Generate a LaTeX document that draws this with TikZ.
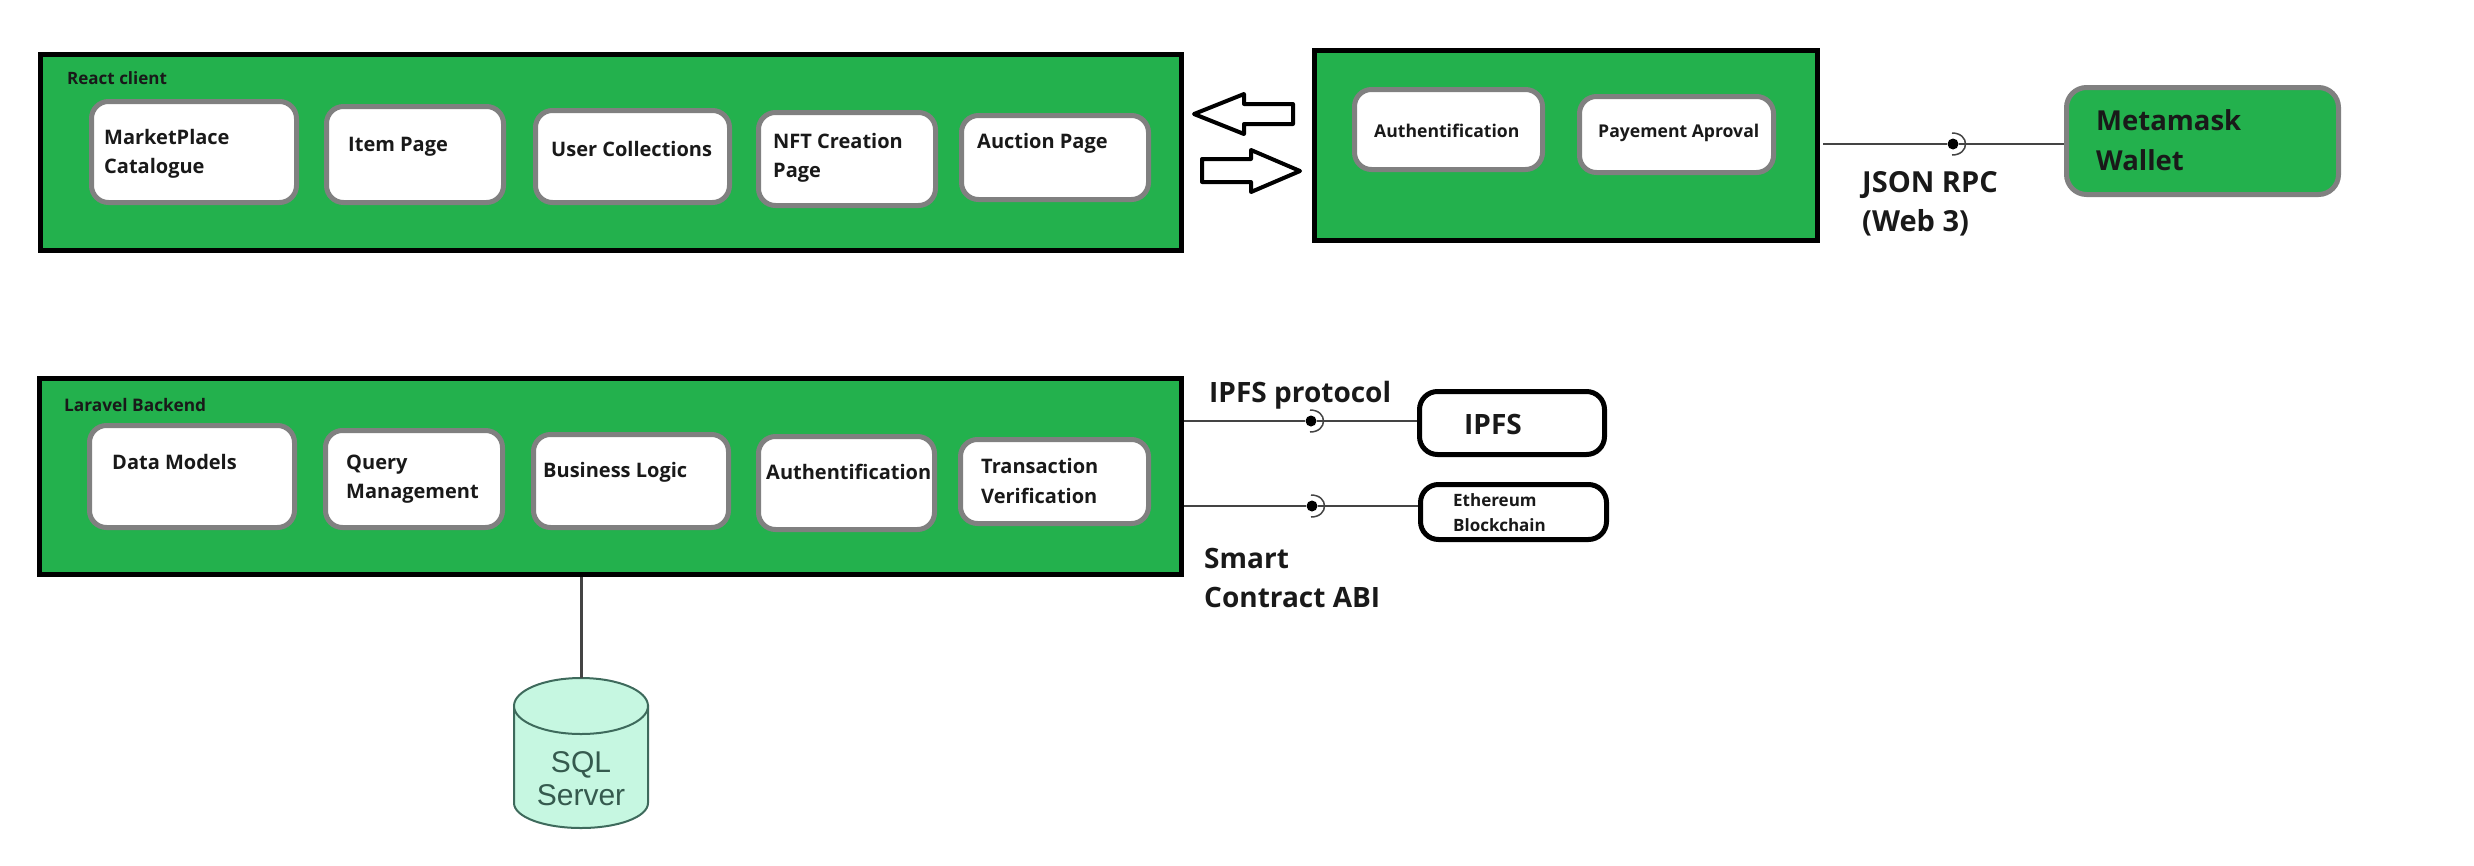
\documentclass[tikz,border=0pt]{standalone}
\usepackage{fontspec}
\setmainfont{Open Sans}[BoldFont={Open Sans Bold}]
\definecolor{panelgreen}{HTML}{23B14D}
\definecolor{pillgrey}{HTML}{808080}
\definecolor{wireink}{HTML}{444444}
\definecolor{dbfill}{HTML}{C6F7E1}
\definecolor{dbink}{HTML}{3E6A5C}
\newcommand{\boxat}[6]{\node[#2,minimum width={#5-#3-5},minimum height={#6-#4-5}] (#1) at ({(#3+#5)/2},{(#4+#6)/2}) {};}
\newcommand{\lbl}[5]{\node[lab,font=\fontsize{#4}{#4}\selectfont\bfseries] (#1) at (#2,#3) {#5};}
\newcommand{\jointarc}[1]{\draw[jointink] ([xshift=-1pt,yshift=11pt]#1.center) .. controls ([xshift=17pt,yshift=11pt]#1.center) and ([xshift=17pt,yshift=-11pt]#1.center) .. ([xshift=-1pt,yshift=-11pt]#1.center);}
\tikzset{
  panel/.style={draw=black,line width=5pt,fill=panelgreen,inner sep=0pt},
  pill/.style={draw=pillgrey,line width=5pt,fill=white,rounded corners=17pt,inner sep=0pt},
  mask/.style={draw=pillgrey,line width=5pt,fill=panelgreen,rounded corners=20pt,inner sep=0pt},
  store/.style={draw=black,line width=5pt,fill=white,rounded corners=18pt,inner sep=0pt},
  lab/.style={anchor=base west,inner sep=0pt,align=left,text=black!90},
  wire/.style={draw=wireink,line width=2pt},
  jointdot/.style={circle,fill=black,inner sep=0pt,minimum size=11pt},
  jointink/.style={draw=wireink,line width=1.5pt},
  block/.style={draw=black,line width=4pt,fill=white,line join=round},
  dbshape/.style={draw=dbink,line width=2pt,fill=dbfill},
}
\begin{document}
\begin{tikzpicture}[x=1pt,y=-1pt]
\useasboundingbox (0,0) rectangle (2474,865);
% panels
\boxat{react}{panel}{38}{52}{1184}{253}
\boxat{auth}{panel}{1312}{48}{1820}{243}
\boxat{back}{panel}{37}{376}{1184}{577}
% react pills
\boxat{mp}{pill}{89}{99}{299}{205}
\boxat{item}{pill}{324}{104}{506}{205}
\boxat{coll}{pill}{533}{108}{732}{205}
\boxat{nft}{pill}{756}{110}{938}{208}
\boxat{auct}{pill}{959}{113}{1151}{202}
% auth pills
\boxat{au}{pill}{1352}{87}{1545}{172}
\boxat{pay}{pill}{1577}{94}{1776}{175}
% backend pills
\boxat{dm}{pill}{87}{423}{297}{530}
\boxat{qm}{pill}{323}{428}{505}{530}
\boxat{bl}{pill}{531}{432}{731}{530}
\boxat{ba}{pill}{756}{434}{937}{532}
\boxat{tv}{pill}{958}{437}{1151}{526}
% others
\boxat{mm}{mask}{2064}{85}{2341}{197}
\boxat{ipfs}{store}{1417}{389}{1607}{457}
\boxat{eth}{store}{1418}{482}{1609}{542}
% block arrows
\draw[block] (1194,114) -- (1244,94) -- (1244,104) -- (1293,104) -- (1293,124) -- (1244,124) -- (1244,134) -- cycle;
\draw[block] (1300,171) -- (1251,150) -- (1251,159) -- (1202,159) -- (1202,182) -- (1251,182) -- (1251,192) -- cycle;
% joints
\node[jointdot] (j1) at (1953,144) {};
\node[jointdot] (j2) at (1311,421) {};
\node[jointdot] (j3) at (1312,506) {};
\draw[wire] ([xshift=3pt]j1 -| auth.east) -- (j1);
\draw[wire] (j1) -- (j1 -| mm.west);
\draw[wire] (j2 -| back.east) -- (j2);
\draw[wire] (j2) -- (j2 -| ipfs.west);
\draw[wire] (j3 -| back.east) -- (j3);
\draw[wire] (j3) -- (j3 -| eth.west);
\jointarc{j1}\jointarc{j2}\jointarc{j3}
% database
\coordinate (dbtop) at (581,678);
\draw[dbshape] (514,706) -- (514,803) .. controls (514,817) and (544,828) .. (581,828) .. controls (618,828) and (648,817) .. (648,803) -- (648,706) -- cycle;
\draw[dbshape] (581,706) ellipse [x radius=67pt,y radius=28pt];
\draw[wireink,line width=3pt] (dbtop |- back.south) -- (dbtop);
\node[font=\fontsize{30}{33}\selectfont\fontspec{Liberation Sans},text=dbink!85!black,align=center,inner sep=0pt] (dbt) at (581,779) {SQL\\Server};
% labels
\lbl{lreact}{67}{84}{17}{React client}
\lbl{lmp}{104}{173}{20}{MarketPlace\\[9pt]Catalogue}
\lbl{litem}{348}{151}{20}{Item Page}
\lbl{lcoll}{551}{156}{20}{User Collections}
\lbl{lnft}{773}{177}{20}{NFT Creation\\[9pt]Page}
\lbl{lauct}{977}{148}{20}{Auction Page}
\lbl{lau}{1374}{137}{17.6}{Authentification}
\lbl{lpay}{1598}{137}{17.6}{Payement Aproval}
\lbl{lmm}{2096}{170}{27.5}{Metamask\\[12.5pt]Wallet}
\lbl{ljson}{1862}{231}{29}{JSON RPC\\[10pt](Web 3)}
\lbl{lback}{64}{411}{17.3}{Laravel Backend}
\lbl{ldm}{112}{469}{20}{Data Models}
\lbl{lqm}{346}{498}{20}{Query\\[9pt]Management}
\lbl{lbl}{543}{477}{20}{Business Logic}
\lbl{lba}{766}{479}{20}{Authentification}
\lbl{ltv}{981}{503}{20}{Transaction\\[10pt]Verification}
\lbl{lproto}{1209}{402}{28}{IPFS protocol}
\lbl{lipfs}{1464}{434}{28}{IPFS}
\lbl{leth}{1453}{531}{17}{Ethereum\\[8pt]Blockchain}
\lbl{labi}{1204}{607}{28}{Smart\\[11pt]Contract ABI}
\end{tikzpicture}
\end{document}
